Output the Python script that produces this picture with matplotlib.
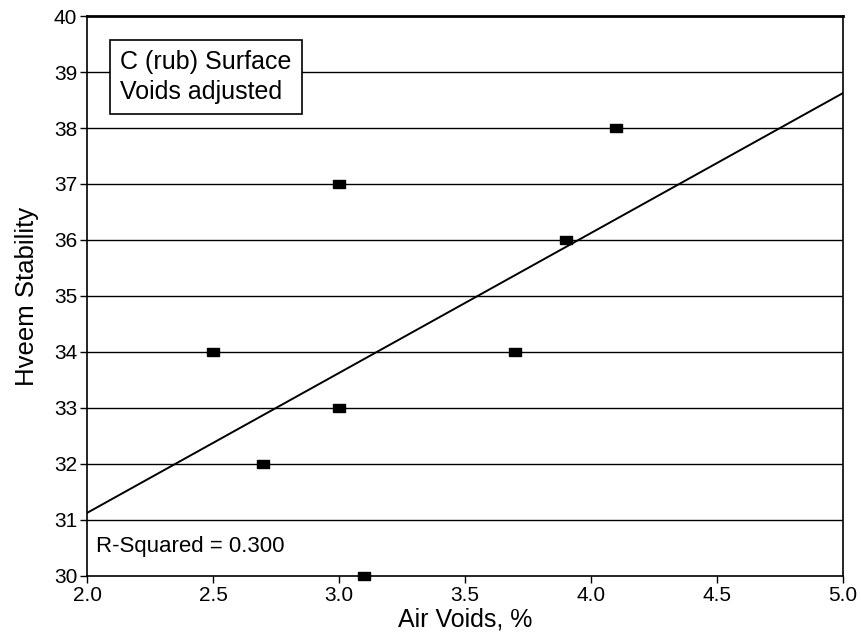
import numpy as np
import matplotlib.pyplot as plt

plt.rcParams['font.family'] = ['Liberation Sans', 'DejaVu Sans']

air_voids = [2.5, 2.7, 3.0, 3.0, 3.1, 3.7, 3.9, 4.1]
stability = [34, 32, 37, 33, 30, 34, 36, 38]
x_ticks = [2.0, 2.5, 3.0, 3.5, 4.0, 4.5, 5.0]
y_ticks = list(range(30, 41))

fig = plt.figure(figsize=(8.62, 6.42), dpi=100)
ax = fig.add_axes([0.101, 0.103, 0.877, 0.872])

# horizontal grid lines
for yv in y_ticks[1:-1]:
    ax.axhline(yv, color='black', lw=1.0, zorder=1)

# least-squares line
slope, intercept = np.polyfit(air_voids, stability, 1)
xs = np.array([2.0, 5.0])
ax.plot(xs, slope * xs + intercept, color='black', lw=1.4, zorder=2)

rect = [(-1, -0.7), (1, -0.7), (1, 0.7), (-1, 0.7), (-1, -0.7)]
ax.plot(air_voids, stability, linestyle='none', marker=rect, markersize=8.5,
        color='black', clip_on=False, zorder=3)

ax.set_xlim(2.0, 5.0)
ax.set_ylim(30, 40)
ax.set_xticks(x_ticks)
ax.set_xticklabels([f"{v:.1f}" for v in x_ticks])
ax.set_yticks(y_ticks)
ax.tick_params(direction='out', length=5, width=1, labelsize=15, pad=2)
for s in ax.spines.values():
    s.set_linewidth(1.2)
ax.spines['top'].set_linewidth(2)

ax.set_xlabel("Air Voids, %", fontsize=18, labelpad=2)
ax.set_ylabel("Hveem Stability", fontsize=18.5, labelpad=11)

ax.text(0.044, 0.94, "C (rub) Surface\nVoids adjusted", transform=ax.transAxes,
        fontsize=18, va='top', ha='left', linespacing=1.35,
        bbox=dict(boxstyle='square,pad=0.4', facecolor='white', edgecolor='black', lw=1.2),
        zorder=5)
ax.text(0.012, 0.052, "R-Squared = 0.300", transform=ax.transAxes,
        fontsize=16, va='center', ha='left', zorder=5,
        bbox=dict(boxstyle='square,pad=0.1', facecolor='white', edgecolor='none'))

plt.savefig("out.png", dpi=100)
